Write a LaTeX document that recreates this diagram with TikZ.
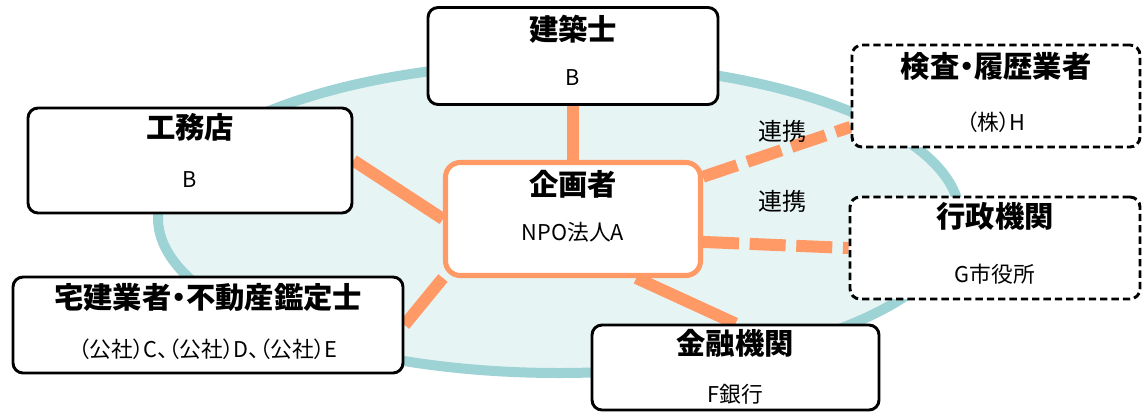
\documentclass[tikz,border=0pt]{standalone}
\usepackage{fontspec}
\setmainfont{Noto Sans CJK JP}[RawFeature=+palt]
\definecolor{teal1}{HTML}{9ED3D6}
\definecolor{tealfill}{HTML}{E7F4F4}
\definecolor{orng}{HTML}{FF9966}
\pgfdeclarelayer{ring}
\pgfdeclarelayer{links}
\pgfsetlayers{ring,links,main}
\tikzset{
  px/.style={x=0.75pt,y=-0.75pt},
  solidbox/.style={draw=black,line width=2.2pt,rounded corners=7.5pt,fill=white,inner sep=0pt},
  dashbox/.style={draw=black,line width=2.2pt,rounded corners=7.5pt,fill=white,inner sep=0pt,dash pattern=on 5.5pt off 3pt},
  planbox/.style={draw=orng,line width=3.8pt,rounded corners=11pt,fill=white,inner sep=0pt},
  ttl/.style={font=\fontsize{22pt}{24pt}\selectfont\bfseries,inner sep=0pt,text height=0.85em,text depth=0.1em},
  subt/.style={font=\fontsize{16.3pt}{18pt}\selectfont,inner sep=0pt,text height=0.85em,text depth=0.1em},
  lbl/.style={font=\fontsize{18pt}{20pt}\selectfont,inner sep=0pt,text height=0.85em,text depth=0.1em},
  link/.style={draw=orng,line width=9pt},
  dlink/.style={draw=orng,line width=9pt,dash pattern=on 27pt off 8pt},
}
\begin{document}
\begin{tikzpicture}[px]
\useasboundingbox (0,0) rectangle (1145,418);
% boxes
\node[solidbox,minimum width=217.5pt,minimum height=72.75pt] (kz) at (573,56) {};
\node[planbox,minimum width=191.25pt,minimum height=84.75pt] (ki) at (573,219) {};
\node[solidbox,minimum width=243pt,minimum height=78.75pt] (km) at (190,160.5) {};
\node[solidbox,minimum width=292.5pt,minimum height=72pt] (kt) at (208,325) {};
\node[solidbox,minimum width=215.25pt,minimum height=63.75pt] (kin) at (735.5,367.5) {};
\node[dashbox,minimum width=216pt,minimum height=76.5pt] (ken) at (996,96) {};
\node[dashbox,minimum width=217.5pt,minimum height=76.5pt] (gyo) at (995,248) {};
% texts
\node[ttl] (kzt) at (573,35) {建築士};
\node[subt] (kzs) at (573,80) {B};
\node[ttl] (kit) at (573,190) {企画者};
\node[subt] (kis) at (573,235) {NPO法人A};
\node[ttl] (kmt) at (190,133) {工務店};
\node[subt] (kms) at (190,182) {B};
\node[ttl] (ktt) at (208,303) {宅建業者・不動産鑑定士};
\node[subt] (kts) at (208,352) {（公社）C、（公社）D、（公社）E};
\node[ttl] (kint) at (735,349) {金融機関};
\node[subt] (kins) at (735,397) {F銀行};
\node[ttl] (kent) at (996,72) {検査・履歴業者};
\node[subt] (kens) at (996,125) {（株）H};
\node[ttl] (gyot) at (995,222) {行政機関};
\node[subt] (gyos) at (995,277) {G市役所};
\node[lbl] (r1) at (782,135) {連携};
\node[lbl] (r2) at (782,205) {連携};
% ring
\begin{pgfonlayer}{ring}
\draw[teal1,line width=7.5pt,fill=tealfill] (559,218) ellipse [x radius=401, y radius=155];
\end{pgfonlayer}
% connectors
\begin{pgfonlayer}{links}
\draw[link] (kz.south) -- (ki.north);
\draw[link] (km.east) -- (ki.west);
\draw[link] (kt.east) -- (ki.south west);
\draw[link] (ki.-43) -- (kin.north);
\draw[dlink] (ki.18) -- (ken.192);
\draw[dlink] (ki.-10) -- (gyo.west);
\end{pgfonlayer}
\end{tikzpicture}
\end{document}
